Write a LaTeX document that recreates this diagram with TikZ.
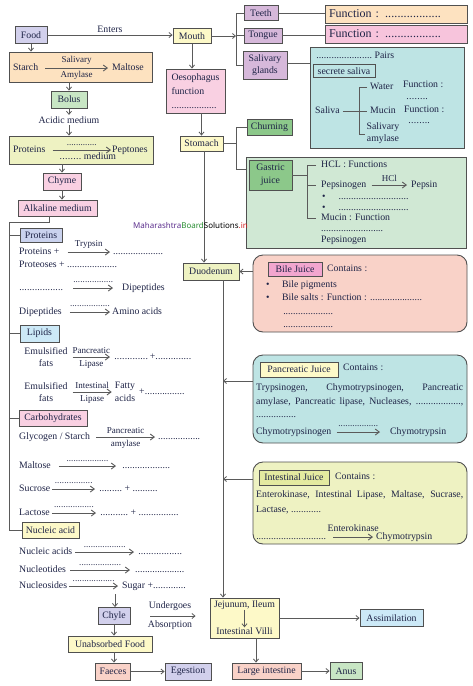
\documentclass[tikz,border=0pt]{standalone}
\usepackage{fontspec}
\setmainfont{Liberation Serif}
\newfontfamily\wmfont{Noto Sans}
\usetikzlibrary{arrows.meta, positioning, calc}

\definecolor{ink}{RGB}{30, 35, 70}
\definecolor{edgegray}{RGB}{80, 80, 80}
\definecolor{arrgray}{RGB}{90, 90, 90}
\definecolor{lavfill}{RGB}{210, 208, 236}
\definecolor{yelfill}{RGB}{253, 249, 200}
\definecolor{orfill}{RGB}{253, 226, 192}
\definecolor{grnfill}{RGB}{200, 230, 196}
\definecolor{ygfill}{RGB}{238, 242, 194}
\definecolor{pinkfill}{RGB}{249, 208, 226}
\definecolor{purfill}{RGB}{214, 184, 218}
\definecolor{funcpink}{RGB}{247, 196, 220}
\definecolor{tealfill}{RGB}{190, 228, 228}
\definecolor{gasfill}{RGB}{208, 232, 212}
\definecolor{gasgreen}{RGB}{140, 200, 138}
\definecolor{blufill}{RGB}{202, 210, 238}
\definecolor{skyfill}{RGB}{204, 233, 247}
\definecolor{salfill}{RGB}{249, 210, 200}
\definecolor{bilepink}{RGB}{242, 166, 207}
\definecolor{intinner}{RGB}{228, 234, 160}
\definecolor{wmpurple}{RGB}{90, 45, 140}
\definecolor{wmgreen}{RGB}{40, 140, 50}
\definecolor{wmred}{RGB}{210, 30, 30}

\newcommand{\bodyfont}{\fontsize{9.8}{12.5}\selectfont}
\newcommand{\labfont}{\fontsize{9}{10}\selectfont}
\newcommand{\funcfont}{\fontsize{12}{14}\selectfont}
\newcommand{\gapdots}[1]{\leavevmode\hbox to #1pt{\xleaders\hbox{.}\hfill}}

\begin{document}
\begin{tikzpicture}[x=1pt, y=-1pt, font=\bodyfont, text=ink,
  box/.style={draw=edgegray, line width=0.9pt, inner sep=1pt, align=center},
  rbox/.style={draw=edgegray, line width=0.9pt, rounded corners=10pt},
  txt/.style={anchor=west, inner sep=0pt, text height=7pt, text depth=2pt},
  two/.style={inner sep=0pt, align=center},
  lab/.style={inner sep=1.5pt, font=\labfont},
  con/.style={draw=arrgray, line width=0.8pt, -{Straight Barb[length=3pt, width=5pt]}},
  tarr/.style={draw=arrgray, line width=0.9pt, -{Straight Barb[length=4pt, width=6pt]}},
  brk/.style={draw=arrgray, line width=0.8pt}]
  \useasboundingbox (0,0) rectangle (473,686);

  % Food enters mouth
  \node[box, fill=lavfill, minimum width=32, minimum height=17] (food) at (31,35) {Food};
  \node[box, fill=yelfill, minimum width=38, minimum height=15] (mouth) at (192,36) {Mouth};
  \draw[con] (food.east) -- node[lab, above=1pt, font=\bodyfont] {Enters} (food.east -| mouth.west);

  % Mouth parts
  \coordinate (mspine) at (236,0);
  \node[box, fill=purfill, minimum width=34, minimum height=15] (teeth) at (261,13) {Teeth};
  \node[box, fill=purfill, minimum width=38, minimum height=15] (tongue) at (263,35.5) {Tongue};
  \node[box, fill=purfill, minimum width=44, minimum height=28] (glands) at (265,65) {Salivary\\glands};
  \draw[con] (mouth.east) -- (mouth.east -| mspine);
  \draw[brk] (teeth.west) -- (teeth.west -| mspine) -- (glands.west -| mspine) -- (glands.west);
  \draw[brk] (tongue.west -| mspine) -- (tongue.west);

  \node[box, fill=orfill, minimum width=142, minimum height=18, text width=134, align=left, font=\funcfont] (func1) at (396,14) {Function : \gapdots{56}};
  \node[box, fill=funcpink, minimum width=142, minimum height=18, text width=134, align=left, font=\funcfont] (func2) at (396,34) {Function : \gapdots{56}};
  \draw[brk] (teeth.east) -- (func1.west |- teeth.east);
  \draw[brk] (tongue.east) -- (func2.west |- tongue.east);

  % Saliva
  \node[box, fill=tealfill, minimum width=154, minimum height=101] (salbox) at (387,97.5) {};
  \draw[brk] ([yshift=2]glands.east) -- ([yshift=2]glands.east -| salbox.west);
  \node[txt] (pairs) at (316,56) {\gapdots{56} Pairs};
  \node[box, minimum width=62, minimum height=13] (secrete) at (344,71) {secrete saliva};
  \node[txt] (salv) at (315,111) {Saliva};
  \node[txt] (water) at (370,87) {Water};
  \node[txt] (mucin) at (370,111) {Mucin};
  \node[two] (amyl) at (383,133) {Salivary\\amylase};
  \coordinate (vspine) at (359,0);
  \coordinate (amyb) at (365,134);
  \draw[brk] ([xshift=3]salv.east) -- ([xshift=-3]mucin.west);
  \draw[brk] ([xshift=-3]water.west) -- (water.west -| vspine) -- (vspine |- amyb) -- (amyb);
  \node[txt] (sf1) at (403,85) {Function :};
  \node[txt] (sf1d) at (406,97) {\gapdots{22}};
  \node[txt] (sf2) at (404,110) {Function :};
  \node[txt] (sf2d) at (408,121) {\gapdots{22}};

  % Oesophagus and stomach
  \node[box, fill=pinkfill, minimum width=59, minimum height=44, align=left, font=\fontsize{9.8}{14}\selectfont] (oes) at (195.5,91) {Oesophagus\\function\\\gapdots{45}};
  \draw[con] (mouth.south) -- (mouth.south |- oes.north);
  \node[box, fill=yelfill, minimum width=43, minimum height=15] (stom) at (201.5,143.5) {Stomach};
  \draw[con] (oes.south -| stom.north) -- (stom.north);

  % Stomach branches
  \coordinate (sspine) at (236,0);
  \node[box, fill=gasgreen, minimum width=45, minimum height=16] (churn) at (269.5,127) {Churning};
  \node[box, fill=gasfill, minimum width=220, minimum height=91] (gas) at (356,202.5) {};
  \node[box, fill=gasgreen, minimum width=43, minimum height=30] (gj) at (270.5,175) {Gastric\\juice};
  \draw[brk] (stom.east) -- (stom.east -| sspine);
  \draw[brk] (churn.west) -- (churn.west -| sspine) -- ([yshift=33.5]gas.west -| sspine) -- ([yshift=33.5]gas.west);

  % Gastric juice
  \coordinate (gspine) at (307,0);
  \node[txt] (hcl) at (321,165) {HCL : Functions};
  \node[txt] (gp1) at (321,185) {Pepsinogen};
  \node[txt] (gp2) at (411,185) {Pepsin};
  \draw[tarr] ([xshift=5]gp1.east) -- node[lab, above=1pt] {HCl} ([xshift=-4]gp2.west);
  \node[txt] (gb1) at (322,197) {\textbullet\hspace{13pt}\gapdots{70}};
  \node[txt] (gb2) at (322,208) {\textbullet\hspace{13pt}\gapdots{70}};
  \node[txt] (gmu) at (321,218) {Mucin : Function};
  \node[txt] (gdots) at (321,229) {\gapdots{62}};
  \node[txt] (gpep) at (321,240) {Pepsinogen};
  \draw[brk] (gj.east) -- (gj.east -| gspine);
  \draw[brk] ([xshift=-5]hcl.west) -- (hcl.west -| gspine) -- (gmu.west -| gspine) -- ([xshift=-5]gmu.west);
  \draw[brk] (gp1.west -| gspine) -- ([xshift=-5]gp1.west);

  % Duodenum
  \node[box, fill=ygfill, minimum width=56, minimum height=17] (duo) at (211,271.5) {Duodenum};
  \draw[con] ([xshift=2.5]stom.south) -- ([xshift=2.5]stom.south |- duo.north);
  \coordinate (dl) at ([xshift=12]duo.south);

  % Bile juice
  \node[rbox, fill=salfill, minimum width=214, minimum height=77] (bile) at (360,293.5) {};
  \node[box, fill=bilepink, minimum width=54, minimum height=14] (bilej) at (295,269) {Bile Juice};
  \node[txt] (bc) at (327,269) {Contains :};
  \node[txt] (bp) at (266,285) {\textbullet\hspace{12.5pt}Bile pigments};
  \node[txt] (bs) at (266,298) {\textbullet\hspace{12.5pt}Bile salts : Function : \gapdots{52}};
  \node[txt] (bd1) at (283,312) {\gapdots{50}};
  \node[txt] (bd2) at (283,325) {\gapdots{50}};
  \draw[con] (bile.west |- duo.east) -- (duo.east);

  % Pancreatic juice
  \node[rbox, fill=tealfill, minimum width=214, minimum height=88] (panc) at (360,399) {};
  \node[box, fill=yelfill, minimum width=78, minimum height=15] (pancj) at (299,369.5) {Pancreatic Juice};
  \node[txt] (pcc) at (343,368) {Contains :};
  \node[txt] (pc1) at (256,388) {\makebox[207pt][s]{Trypsinogen, Chymotrypsinogen, Pancreatic}};
  \node[txt] (pc2) at (256,402) {\makebox[207pt][s]{amylase, Pancreatic lipase, Nucleases, \gapdots{45},}};
  \node[txt] (pc3) at (256,415) {\gapdots{40}};
  \node[txt] (pc4) at (256,432) {Chymotrypsinogen};
  \node[txt] (pc5) at (390,432) {Chymotrypsin};
  \draw[tarr] ([xshift=5]pc4.east) -- node[lab, above=3pt] {\gapdots{40}} ([xshift=-10]pc5.west);
  \draw[con] ([yshift=18]panc.west) -- ([yshift=18]panc.west -| dl);

  % Intestinal juice
  \node[rbox, fill=ygfill, minimum width=214, minimum height=82] (intj) at (360,503) {};
  \node[box, fill=intinner, minimum width=70, minimum height=15] (intjj) at (294,477.5) {Intestinal Juice};
  \node[txt] (ic) at (335,477) {Contains :};
  \node[txt] (ij1) at (256,495) {\makebox[207pt][s]{Enterokinase, Intestinal Lipase, Maltase, Sucrase,}};
  \node[txt] (ij2) at (256,510) {Lactase, \gapdots{30}};
  \node[txt] (ij3) at (256,537) {\gapdots{70}};
  \node[txt] (ij4) at (376,537) {Chymotrypsin};
  \draw[tarr] ([xshift=7]ij3.east) -- node[lab, above=3.5pt, font=\bodyfont] {Enterokinase} ([xshift=-3]ij4.west);
  \draw[con] ([yshift=24]intj.west) -- ([yshift=24]intj.west -| dl);

  % Absorption
  \node[box, fill=yelfill, minimum width=69, minimum height=40] (jej) at (244.5,618) {};
  \node[inner sep=0pt] (jej1) at (244.5,605) {Jejunum, Ileum};
  \node[inner sep=0pt] (jej2) at (244.5,631) {Intestinal Villi};
  \draw[con] (jej1) -- (jej2);
  \draw[con] (dl) -- (dl |- jej.north);
  \node[box, fill=skyfill, minimum width=63, minimum height=17] (assim) at (391.5,618) {Assimilation};
  \draw[con] (jej.east) -- (assim.west);
  \node[box, fill=salfill, minimum width=69, minimum height=16] (lint) at (266.5,671) {Large intestine};
  \draw[con] ([xshift=11.5]jej.south) -- ([xshift=11.5]jej.south |- lint.north);
  \node[box, fill=grnfill, minimum width=32, minimum height=17] (anus) at (346,671) {Anus};
  \draw[con] (lint.east) -- (anus.west);

  % Chyle and egestion
  \coordinate (nsend) at (115,594);
  \node[box, fill=lavfill, minimum width=32, minimum height=17] (chyle) at (114,616) {Chyle};
  \draw[con] (nsend) -- (nsend |- chyle.north);
  \draw[con, shorten <=20pt, shorten >=14pt] (chyle.east) -- node[lab, above=3pt, font=\bodyfont] {Undergoes} node[lab, below=3pt, font=\bodyfont] {Absorption} (chyle.east -| jej.west);
  \node[box, fill=yelfill, minimum width=84, minimum height=16] (unabs) at (110,644) {Unabsorbed Food};
  \draw[con] (chyle.south) -- (chyle.south |- unabs.north);
  \node[box, fill=salfill, minimum width=35, minimum height=17] (faeces) at (113,671.5) {Faeces};
  \draw[con] (chyle.south |- unabs.south) -- (chyle.south |- faeces.north);
  \node[box, fill=lavfill, minimum width=46, minimum height=17] (eges) at (188,671.5) {Egestion};
  \draw[con] (faeces.east) -- (eges.west);

  % Starch, bolus, proteins
  \node[box, fill=orfill, minimum width=143, minimum height=30] (starch) at (80.5,67) {};
  \draw[con] (food.south) -- (food.south |- starch.north);
  \node[txt] (st1) at (13,68) {Starch};
  \node[txt] (st2) at (112,68) {Maltose};
  \draw[tarr] ([xshift=7]st1.east) -- node[lab, above=1.5pt] {Salivary} node[lab, below=1.5pt] {Amylase} ([xshift=-4]st2.west);
  \node[box, fill=grnfill, minimum width=36, minimum height=17] (bolus) at (69,99.5) {Bolus};
  \draw[con] (bolus.north |- starch.south) -- (bolus.north);
  \node[lab, font=\bodyfont] (acid) at (69,120) {Acidic medium};
  \draw[con] (bolus.south) -- (acid.north);
  \node[box, fill=ygfill, minimum width=144, minimum height=28] (protA) at (81,150) {};
  \draw[con] (acid.south) -- (acid.south |- protA.north);
  \node[txt] (pt1) at (13,150) {Proteins};
  \node[txt] (pt2) at (112,150) {Peptones};
  \draw[tarr] ([xshift=7]pt1.east) -- node[lab, above=2pt] {\gapdots{30}} node[lab, below=0.5pt, xshift=6pt, font=\bodyfont] {\gapdots{22} medium} ([xshift=-1]pt2.west);
  \node[box, fill=pinkfill, minimum width=38, minimum height=17] (chyme) at (62,181.5) {Chyme};
  \draw[con] (protA.south -| chyme.north) -- (chyme.north);
  \node[box, fill=pinkfill, minimum width=79, minimum height=16] (alk) at (57.5,208) {Alkaline medium};
  \draw[con] (chyme.south) -- (chyme.south |- alk.north);

  % Food groups in duodenum
  \coordinate (spine) at (9,222);
  \node[box, fill=blufill, minimum width=42, minimum height=14] (prot) at (41,235) {Proteins};
  \node[box, fill=skyfill, minimum width=39, minimum height=17] (lip) at (39.5,333.5) {Lipids};
  \node[box, fill=pinkfill, minimum width=68, minimum height=16] (carb) at (53,418) {Carbohydrates};
  \node[box, fill=yelfill, minimum width=57, minimum height=16] (nuc) at (50.5,530) {Nucleic acid};
  \draw[brk] ([xshift=-8.5]alk.south) -- ([xshift=-8.5]alk.south |- spine) -- (spine) -- (spine |- nuc.west) -- (nuc.west);
  \draw[brk] (spine |- prot.west) -- (prot.west);
  \draw[brk] (spine |- lip.west) -- (lip.west);
  \draw[brk] (spine |- carb.west) -- (carb.west);

  % Proteins
  \node[txt] (pa1) at (19,252) {Proteins +};
  \node[txt] (pa1r) at (113,252) {\gapdots{50}};
  \draw[tarr] ([xshift=8]pa1.east) -- node[lab, above=1.5pt] {Trypsin} ([xshift=-3]pa1r.west);
  \node[txt] (pa2) at (19,265) {Proteoses + \gapdots{50}};
  \node[txt] (pa3) at (19,288) {\gapdots{44}};
  \node[txt] (pa3r) at (122,288) {Dipeptides};
  \draw[tarr] ([xshift=10]pa3.east) -- node[lab, above=3pt] {\gapdots{40}} ([xshift=-9]pa3r.west);
  \node[txt] (pa4) at (19,312) {Dipeptides};
  \node[txt] (pa4r) at (112,312) {Amino acids};
  \draw[tarr] ([xshift=8]pa4.east) -- node[lab, above=3pt] {\gapdots{40}} ([xshift=-2]pa4r.west);

  % Lipids
  \node[two] (em1) at (46,357) {Emulsified\\fats};
  \node[txt] (em1r) at (114,357) {\gapdots{34}\,+\gapdots{36}};
  \draw[tarr] ([xshift=5]em1.east) -- node[lab, above=1.5pt] {Pancreatic} node[lab, below=1.5pt] {Lipase} ([xshift=-4]em1r.west);
  \node[two] (em2) at (46,392) {Emulsified\\fats};
  \node[two] (fa) at (125,392) {Fatty\\acids};
  \node[txt] (em2r) at (139,392) {+\gapdots{40}};
  \draw[tarr] ([xshift=5]em2.east) -- node[lab, above=1.5pt] {Intestinal} node[lab, below=1.5pt] {Lipase} ([xshift=-3]fa.west);

  % Carbohydrates
  \node[txt] (gly) at (19,437) {Glycogen / Starch};
  \node[txt] (glyr) at (158,437) {\gapdots{42}};
  \draw[tarr] ([xshift=6]gly.east) -- node[lab, above=1.5pt] {Pancreatic} node[lab, below=1.5pt] {amylase} ([xshift=-3]glyr.west);
  \node[txt] (mal) at (19,466) {Maltose};
  \node[txt] (malr) at (122,466) {\gapdots{48}};
  \draw[tarr] ([xshift=8]mal.east) -- node[lab, above=2.5pt] {\gapdots{42}} ([xshift=-6]malr.west);
  \node[txt] (suc) at (19,489) {Sucrose};
  \node[txt] (sucr) at (99,489) {\gapdots{23} + \gapdots{25}};
  \draw[tarr] ([xshift=2]suc.east) -- node[lab, above=3pt] {\gapdots{38}} ([xshift=-4]sucr.west);
  \node[txt] (lac) at (19,513) {Lactose};
  \node[txt] (lacr) at (100,513) {\gapdots{28} + \gapdots{40}};
  \draw[tarr] ([xshift=2]lac.east) -- node[lab, above=3pt] {\gapdots{40}} ([xshift=-4]lacr.west);

  % Nucleic acids
  \node[txt] (na1) at (19,552) {Nucleic acids};
  \node[txt] (na1r) at (138,552) {\gapdots{44}};
  \draw[tarr] ([xshift=3]na1.east) -- node[lab, above=2.5pt] {\gapdots{42}} ([xshift=-4]na1r.west);
  \node[txt] (na2) at (19,570) {Nucleotides};
  \node[txt] (na2r) at (135,570) {\gapdots{49}};
  \draw[tarr] ([xshift=4]na2.east) -- node[lab, above=2.5pt] {\gapdots{42}} ([xshift=-5]na2r.west);
  \node[txt] (na3) at (19,586) {Nucleosides};
  \node[txt] (na3r) at (122,586) {Sugar +\gapdots{33}};
  \draw[tarr] ([xshift=2]na3.east) -- node[lab, above=2pt] {\gapdots{42}} ([xshift=-4]na3r.west);

  % Watermark
  \node[txt, text=black, font=\wmfont\bfseries\fontsize{8}{9}\selectfont] (wm) at (133,226) {\textcolor{wmpurple}{Maharashtra}\textcolor{wmgreen}{Board}Solutions\textcolor{wmred}{.in}};
\end{tikzpicture}
\end{document}
